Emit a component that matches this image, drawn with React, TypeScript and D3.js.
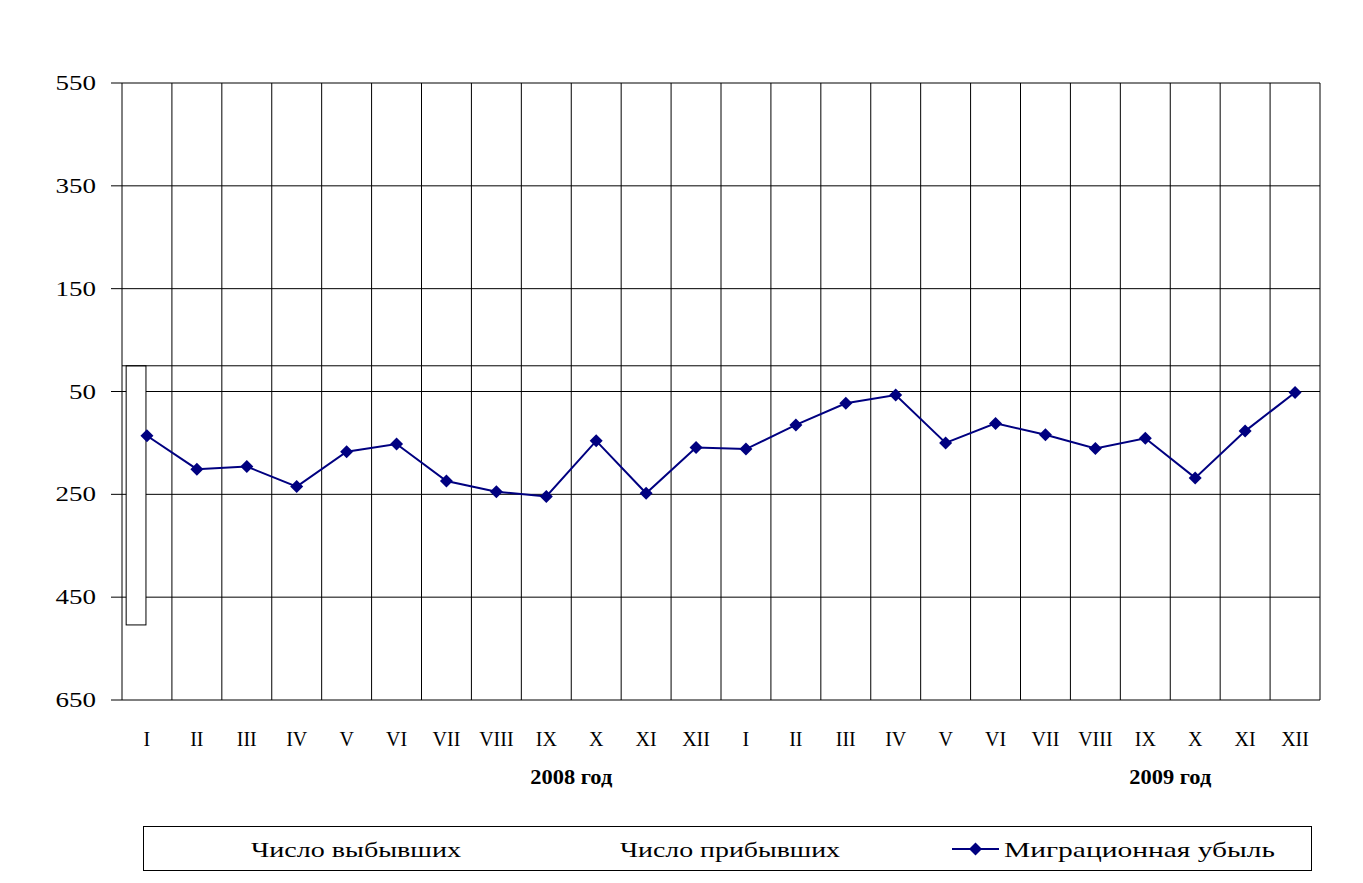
import React from "react";
import * as d3 from "d3";

const months = ["I","II","III","IV","V","VI","VII","VIII","IX","X","XI","XII","I","II","III","IV","V","VI","VII","VIII","IX","X","XI","XII"];
const categories = months.map((m, i) => `${i < 12 ? 2008 : 2009}-${m}`);
const departed: (number | null)[] = [-504, null, null, null, null, null, null, null, null, null, null, null, null, null, null, null, null, null, null, null, null, null, null, null];
const arrived: (number | null)[] = [null, null, null, null, null, null, null, null, null, null, null, null, null, null, null, null, null, null, null, null, null, null, null, null];
const migrationLoss = [-136, -201, -196, -235, -167, -152, -224, -245, -254, -146, -248, -159, -162, -115, -73, -57, -150, -112, -134, -161, -141, -218, -127, -52];
const yTicks = [550, 350, 150, -50, -250, -450, -650];
const yearLabels = ["2008 год", "2009 год"];
const legendLabels = ["Число выбывших", "Число прибывших", "Миграционная убыль"];

const W = 1363, H = 883;
const M = { left: 122, right: 1320, top: 83, bottom: 700 };
const FONT = "'Liberation Serif', 'Times New Roman', serif";
const NAVY = "#000080";

export default function App() {
  const x = d3.scaleBand<string>().domain(categories).range([M.left, M.right]).padding(0);
  const inner = d3.scaleBand<string>().domain(["dep", "arr"]).range([0, x.bandwidth()]).paddingOuter(0.2).paddingInner(0);
  const y = d3.scaleLinear().domain([-650, 550]).range([M.bottom, M.top]);
  const cx = (c: string) => (x(c) as number) + x.bandwidth() / 2;
  const line = d3.line<number>().x((_, i) => cx(categories[i])).y((d) => y(d));
  const diamond = (px: number, py: number, r = 6.5) => `M${px},${py - r}L${px + r},${py}L${px},${py + r}L${px - r},${py}Z`;
  const y0 = y(0);

  return (
    <svg width={W} height={H} style={{ position: "absolute", left: 0, top: 0, background: "#fff" }} fontFamily={FONT}>
      <rect x={0} y={0} width={W} height={H} fill="#fff" />
      {yTicks.map((t) => {
        const s = String(Math.abs(t));
        return (
          <g key={t}>
            <line x1={M.left - 11} x2={M.right} y1={y(t)} y2={y(t)} stroke="#000" strokeWidth={1} />
            <text x={96 - s.length * 13.5} y={y(t) + 7} fontSize={20} fill="#000" textLength={s.length * 13.5} lengthAdjust="spacingAndGlyphs">{s}</text>
          </g>
        );
      })}
      {categories.map((c) => (
        <line key={c} x1={x(c) as number} x2={x(c) as number} y1={M.top} y2={M.bottom} stroke="#000" strokeWidth={1} />
      ))}
      <line x1={M.right} x2={M.right} y1={M.top} y2={M.bottom} stroke="#000" strokeWidth={1} />
      {departed.map((v, i) => v == null ? null : (
        <rect key={"d" + i} x={(x(categories[i]) as number) + (inner("dep") as number)} width={inner.bandwidth() - 1}
          y={Math.min(y(v), y0)} height={Math.abs(y(v) - y0)} fill="#fff" stroke="#000" strokeWidth={1} />
      ))}
      {arrived.map((v, i) => v == null ? null : (
        <rect key={"a" + i} x={(x(categories[i]) as number) + (inner("arr") as number)} width={inner.bandwidth() - 1}
          y={Math.min(y(v), y0)} height={Math.abs(y(v) - y0)} fill="#fff" stroke="#000" strokeWidth={1} />
      ))}
      <line x1={M.left} x2={M.right} y1={y0} y2={y0} stroke="#000" strokeWidth={1} />
      <path d={line(migrationLoss) || ""} fill="none" stroke={NAVY} strokeWidth={2} />
      {migrationLoss.map((v, i) => (
        <path key={"m" + i} d={diamond(cx(categories[i]), y(v))} fill={NAVY} />
      ))}
      {categories.map((c, i) => (
        <text key={"l" + c} x={cx(c)} y={746} textAnchor="middle" fontSize={20} fill="#000">{months[i]}</text>
      ))}
      {yearLabels.map((t, k) => {
        const xa = (x(categories[k * 12 + 9]) as number);
        return <text key={t} x={xa - 41} y={784} fontSize={20} fontWeight="bold" fill="#000" textLength={82} lengthAdjust="spacingAndGlyphs">{t}</text>;
      })}
      <rect x={143.5} y={826.5} width={1168} height={44} fill="#fff" stroke="#000" strokeWidth={1} />
      <text x={251} y={857} fontSize={21} fill="#000" textLength={210} lengthAdjust="spacingAndGlyphs">{legendLabels[0]}</text>
      <text x={620} y={857} fontSize={21} fill="#000" textLength={220} lengthAdjust="spacingAndGlyphs">{legendLabels[1]}</text>
      <line x1={952} x2={999} y1={849} y2={849} stroke={NAVY} strokeWidth={2} />
      <path d={diamond(975.5, 849)} fill={NAVY} />
      <text x={1004} y={857} fontSize={21} fill="#000" textLength={271} lengthAdjust="spacingAndGlyphs">{legendLabels[2]}</text>
    </svg>
  );
}
